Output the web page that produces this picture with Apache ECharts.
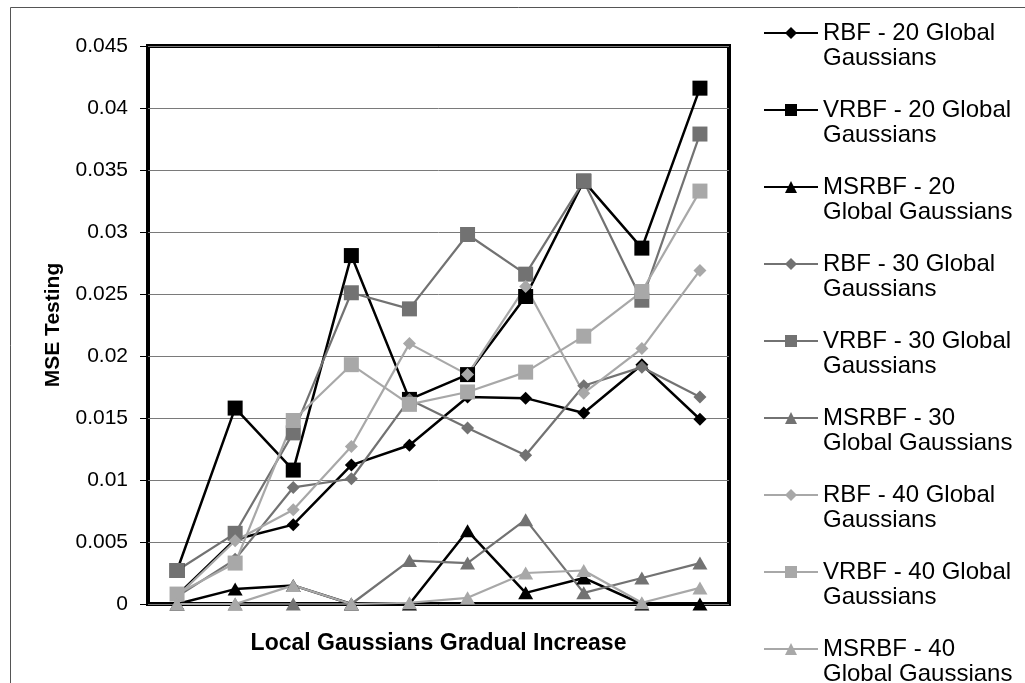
<!DOCTYPE html>
<html>
<head>
<meta charset="utf-8">
<script src="https://cdn.jsdelivr.net/npm/echarts@6/dist/echarts.min.js"></script>
<style>
  html, body { margin: 0; padding: 0; background: #fff; }
  #chart { width: 1025px; height: 683px; }
</style>
</head>
<body>
<div id="chart"></div>
<script>
// Steps of the local-Gaussian increase (x categories, not labelled on the axis)
const categories = ['1', '2', '3', '4', '5', '6', '7', '8', '9', '10'];

// Y axis tick labels
const yTickLabels = ['0', '0.005', '0.01', '0.015', '0.02', '0.025', '0.03', '0.035', '0.04', '0.045'];

// MSE testing values per model
const rbf20   = [0.0007, 0.0052, 0.0064, 0.0112, 0.0128, 0.0167, 0.0166, 0.0154, 0.0193, 0.0149];
const vrbf20  = [0.0027, 0.0158, 0.0108, 0.0281, 0.0165, 0.0185, 0.0248, 0.0341, 0.0287, 0.0416];
const msrbf20 = [0.0000, 0.0012, 0.0015, 0.0000, 0.0000, 0.0059, 0.0009, 0.0021, 0.0000, 0.0000];
const rbf30   = [0.0006, 0.0036, 0.0094, 0.0101, 0.0165, 0.0142, 0.0120, 0.0176, 0.0191, 0.0167];
const vrbf30  = [0.0027, 0.0057, 0.0138, 0.0251, 0.0238, 0.0298, 0.0266, 0.0341, 0.0245, 0.0379];
const msrbf30 = [0.0000, 0.0000, 0.0000, 0.0000, 0.0035, 0.0033, 0.0068, 0.0009, 0.0021, 0.0033];
const rbf40   = [0.0006, 0.0051, 0.0076, 0.0127, 0.0210, 0.0185, 0.0256, 0.0170, 0.0206, 0.0269];
const vrbf40  = [0.0008, 0.0033, 0.0148, 0.0193, 0.0161, 0.0171, 0.0187, 0.0216, 0.0252, 0.0333];
const msrbf40 = [0.0000, 0.0000, 0.0015, 0.0000, 0.0001, 0.0005, 0.0025, 0.0027, 0.0001, 0.0013];

const seriesDefs = [
  { name: 'RBF - 20 Global\nGaussians',    data: rbf20,   color: '#000000', symbol: 'diamond',  size: 13, width: 2.5 },
  { name: 'VRBF - 20 Global\nGaussians',   data: vrbf20,  color: '#000000', symbol: 'rect',     size: 15, width: 2.5 },
  { name: 'MSRBF - 20\nGlobal Gaussians',  data: msrbf20, color: '#000000', symbol: 'triangle', size: [15, 13], width: 2.5 },
  { name: 'RBF - 30 Global\nGaussians',    data: rbf30,   color: '#727272', symbol: 'diamond',  size: 13, width: 2.2 },
  { name: 'VRBF - 30 Global\nGaussians',   data: vrbf30,  color: '#727272', symbol: 'rect',     size: 15, width: 2.2 },
  { name: 'MSRBF - 30\nGlobal Gaussians',  data: msrbf30, color: '#727272', symbol: 'triangle', size: [15, 13], width: 2.2 },
  { name: 'RBF - 40 Global\nGaussians',    data: rbf40,   color: '#a8a8a8', symbol: 'diamond',  size: 13, width: 2.2 },
  { name: 'VRBF - 40 Global\nGaussians',   data: vrbf40,  color: '#a8a8a8', symbol: 'rect',     size: 15, width: 2.2 },
  { name: 'MSRBF - 40\nGlobal Gaussians',  data: msrbf40, color: '#a8a8a8', symbol: 'triangle', size: [15, 13], width: 2.2 }
];

const chart = echarts.init(document.getElementById('chart'), null, { renderer: 'canvas' });

chart.setOption({
  animation: false,
  backgroundColor: '#ffffff',
  textStyle: { fontFamily: 'Liberation Sans, Arial, sans-serif', color: '#000' },
  graphic: [
    {
      type: 'rect',
      silent: true,
      z: -10,
      shape: { x: 10.5, y: 7.5, width: 1100, height: 1100 },
      style: { fill: 'none', stroke: '#555', lineWidth: 1 }
    }
  ],
  grid: {
    left: 148, top: 46, right: 296, bottom: 79,
    show: true,
    borderColor: '#000',
    borderWidth: 4,
    backgroundColor: 'transparent'
  },
  legend: {
    orient: 'vertical',
    left: 763,
    top: -4.5,
    height: 760,
    padding: 0,
    itemWidth: 54,
    itemHeight: 15,
    itemGap: 2,
    selectedMode: false,
    // leading blank line keeps each entry's first text line level with its icon
    formatter: name => '\n' + name,
    textStyle: {
      fontFamily: 'Liberation Sans, Arial, sans-serif',
      fontSize: 24,
      lineHeight: 25,
      color: '#000'
    },
    data: seriesDefs.map(s => s.name)
  },
  xAxis: {
    type: 'category',
    data: categories,
    boundaryGap: true,
    name: 'Local Gaussians Gradual Increase',
    nameLocation: 'middle',
    nameGap: 28,
    nameTextStyle: { fontSize: 23, fontWeight: 'bold', color: '#000' },
    axisLine: { show: false },
    axisTick: { show: false },
    axisLabel: { show: false },
    splitLine: { show: false }
  },
  yAxis: {
    type: 'value',
    min: 0,
    max: 0.045,
    interval: 0.005,
    name: 'MSE Testing',
    nameLocation: 'middle',
    nameGap: 84,
    nameTextStyle: { fontSize: 21, fontWeight: 'bold', color: '#000' },
    axisLine: { show: false },
    axisTick: { show: true, inside: false, length: 8, lineStyle: { color: '#000', width: 1 } },
    axisLabel: {
      margin: 20,
      fontSize: 21,
      color: '#000',
      formatter: (v, i) => yTickLabels[i]
    },
    splitLine: { show: true, lineStyle: { color: '#7a7a7a', width: 1 } }
  },
  series: seriesDefs.map(s => ({
    type: 'line',
    name: s.name,
    data: s.data,
    symbol: s.symbol,
    symbolSize: s.size,
    showAllSymbol: true,
    lineStyle: { color: s.color, width: s.width },
    itemStyle: { color: s.color, borderWidth: 0 },
    emphasis: { disabled: true }
  }))
});
</script>
</body>
</html>
